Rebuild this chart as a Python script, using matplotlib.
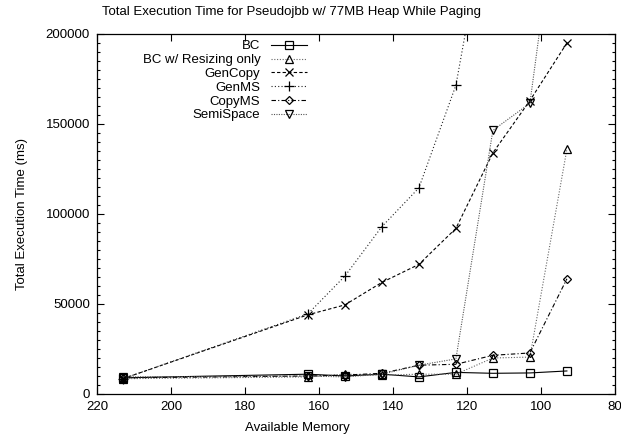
import matplotlib
matplotlib.use("Agg")
import matplotlib.pyplot as plt
from matplotlib.ticker import MultipleLocator

plt.rcParams['font.family'] = ['Liberation Sans', 'DejaVu Sans']

mem = [213, 163, 153, 143, 133, 123, 113, 103, 93]
bc = [9000, 11000, 10000, 11000, 9500, 12000, 11500, 11700, 12800]
bc_resize = [8500, 9500, 11000, 10500, 11000, 11000, 20000, 20500, 136000]
gencopy = [8500, 44000, 49500, 62000, 72000, 92000, 134000, 163000, 195000]
genms_mem = [213, 163, 153, 143, 133, 123, 113]
genms = [8500, 44500, 65500, 93000, 114500, 171500, 285000]
copyms = [9000, 10000, 10500, 11500, 16000, 16500, 21500, 22800, 64000]
semispace = [9500, 10000, 9500, 11000, 16000, 19500, 146500, 161500, 315000]

fig = plt.figure(figsize=(6.21, 4.41), dpi=100)
ax = fig.add_axes([97/621, 1-394/441, (615-97)/621, (394-34)/441])

lw = 0.8
ms = 5.8
ax.plot(mem, bc, color='black', lw=lw, ls='-', marker='s', ms=ms, mfc='none', mec='black', mew=0.9, label='BC')
ax.plot(mem, bc_resize, color='#666666', lw=lw, ls=(0, (1, 1.5)), marker='^', ms=ms, mfc='none', mec='black', mew=0.9, label='BC w/ Resizing only')
ax.plot(mem, gencopy, color='black', lw=lw, ls=(0, (3, 2)), marker='x', ms=ms+0.5, mfc='none', mec='black', mew=0.9, label='GenCopy')
ax.plot(genms_mem, genms, color='#222222', lw=lw, ls=(0, (1, 2)), marker='+', ms=ms+1, mfc='none', mec='black', mew=0.9, label='GenMS')
ax.plot(mem, copyms, color='black', lw=lw, ls=(0, (4, 2, 1, 2)), marker='D', ms=ms-1.8, mfc='none', mec='black', mew=0.9, label='CopyMS')
ax.plot(mem, semispace, color='#555555', lw=lw, ls=(0, (1, 1.2)), marker='v', ms=ms, mfc='none', mec='black', mew=0.9, label='SemiSpace')

ax.set_xlim(220, 80)
ax.set_ylim(0, 200000)
ax.xaxis.set_major_locator(MultipleLocator(20))
ax.yaxis.set_major_locator(MultipleLocator(50000))
ax.yaxis.set_minor_locator(MultipleLocator(5000))
ax.tick_params(which='both', direction='in', top=True, right=True, labelsize=9.5, pad=5)
ax.tick_params(which='major', length=5, width=0.8)
ax.tick_params(which='minor', length=2.5, width=0.8)
for s in ax.spines.values():
    s.set_linewidth(0.9)

fig.text(292/621, 1-12/441, 'Total Execution Time for Pseudojbb w/ 77MB Heap While Paging',
         ha='center', va='center', fontsize=9.5)
fig.text(297/621, 1-428/441, 'Available Memory', ha='center', va='center', fontsize=9.5)
fig.text(22/621, 1-214/441, 'Total Execution Time (ms)', ha='center', va='center', rotation=90, fontsize=9.5)

leg = ax.legend(loc='upper right', bbox_to_anchor=(0.42, 1.005), frameon=False, markerfirst=False,
                fontsize=9.5, handlelength=2.7, labelspacing=0.12, handletextpad=0.8, borderaxespad=0.2)

fig.savefig('out.png', dpi=100)
